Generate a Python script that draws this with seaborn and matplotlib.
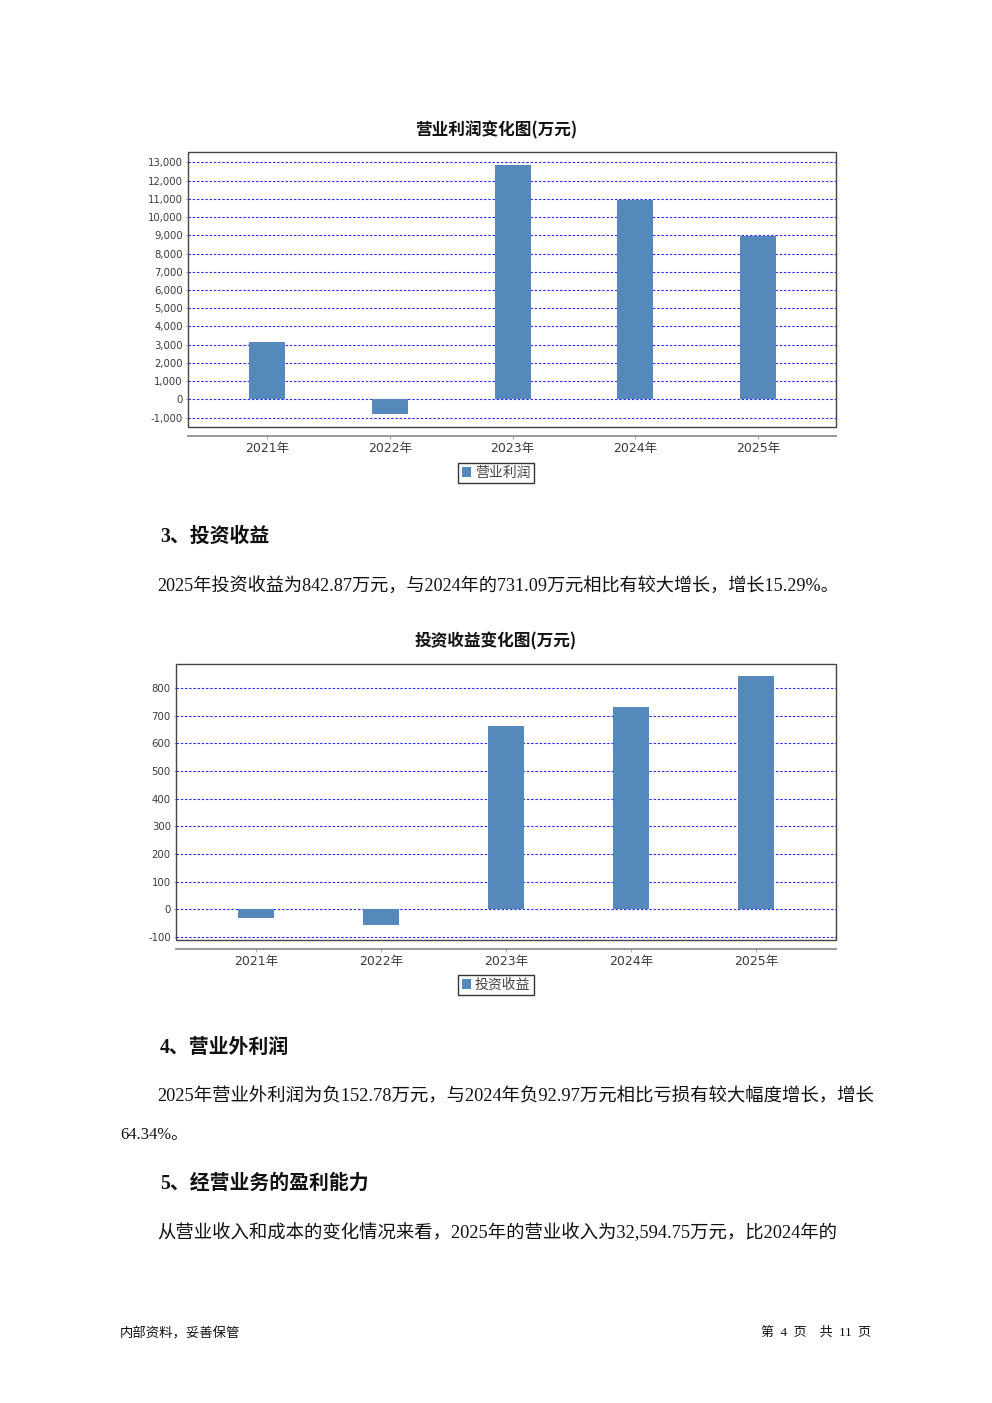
import matplotlib
matplotlib.use("Agg")
import matplotlib.pyplot as plt
import seaborn as sns
import pandas as pd
from matplotlib.patches import Rectangle

# ---------------- data ----------------
years = ["2021年", "2022年", "2023年", "2024年", "2025年"]
op_profit = [3140, -800, 12850, 10930, 8950]          # 营业利润 (万元)
invest_income = [-31, -57, 661, 731.09, 842.87]        # 投资收益 (万元)
op_ticks = list(range(-1000, 13001, 1000))
inv_ticks = list(range(-100, 801, 100))

title1 = "营业利润变化图(万元)"
title2 = "投资收益变化图(万元)"
series1 = "营业利润"
series2 = "投资收益"

heading3 = "3、投资收益"
para3 = "2025年投资收益为842.87万元，与2024年的731.09万元相比有较大增长，增长15.29%。"
heading4 = "4、营业外利润"
para4a = "2025年营业外利润为负152.78万元，与2024年负92.97万元相比亏损有较大幅度增长，增长"
para4b = "64.34%。"
heading5 = "5、经营业务的盈利能力"
para5 = "从营业收入和成本的变化情况来看，2025年的营业收入为32,594.75万元，比2024年的"
footer_left = "内部资料，妥善保管"
footer_right = "第  4  页    共  11  页"

# ---------------- style ----------------
sns.set_theme(style="white")
plt.rcParams["font.family"] = ["DejaVu Sans", "Noto Sans CJK SC"]
plt.rcParams["axes.unicode_minus"] = False

W, H = 992, 1403
fig = plt.figure(figsize=(W / 100, H / 100), dpi=100)
fig.patch.set_facecolor("white")

BAR = "#5588bb"
GRID = "#2a2aff"
CJK = ["Noto Sans CJK SC"]
SERIF = ["Liberation Serif", "Noto Sans CJK SC"]
TICKF = ["DejaVu Sans", "Noto Sans CJK SC"]


def fx(px):
    return px / W


def fy(py):
    return 1 - py / H


def make_chart(box, values, ticks, ylim, xlim, barw, title, title_y, legend_y, label):
    l, t, r, b = box
    ax = fig.add_axes([fx(l), fy(b), (r - l) / W, (b - t) / H])
    df = pd.DataFrame({"year": years, "value": values})
    sns.barplot(data=df, x="year", y="value", color=BAR, saturation=1,
                width=barw, ax=ax, errorbar=None)
    for p in ax.patches:
        p.set_edgecolor("none")
    # spines first (set_position resets ticks)
    for s in ["top", "right", "left"]:
        ax.spines[s].set_visible(False)
    ax.spines["bottom"].set_position(("outward", 8.5 * 0.72))
    ax.spines["bottom"].set_color("#999999")
    ax.spines["bottom"].set_linewidth(1.4)

    ax.set_xlim(*xlim)
    ax.set_ylim(*ylim)
    ax.set_yticks(ticks)
    ax.set_yticklabels([f"{v:,}" for v in ticks])
    ax.set_xticks(range(len(years)))
    ax.set_xticklabels(years)
    ax.set_xlabel("")
    ax.set_ylabel("")
    ax.tick_params(axis="y", which="both", left=True, length=1.5, width=0.8,
                   color="#aaaaaa", pad=2.2, labelsize=7.3, labelcolor="#3a3a3a")
    ax.tick_params(axis="x", which="both", bottom=True, length=2, width=0.8,
                   color="#aaaaaa", pad=2.5, labelsize=9, labelcolor="#3a3a3a")
    for tl in ax.get_xticklabels() + ax.get_yticklabels():
        tl.set_family(TICKF)
    ax.set_axisbelow(True)
    ax.yaxis.grid(True, color=GRID, linestyle=(0, (2.2, 1.6)), linewidth=0.8)
    ax.xaxis.grid(False)
    ax.add_patch(Rectangle((0, 0), 1, 1, transform=ax.transAxes, fill=False,
                           edgecolor="#444444", linewidth=1.0, clip_on=False, zorder=5))
    fig.text(fx(496), fy(title_y), title, ha="center", va="center",
             fontsize=12, fontweight="bold", family=CJK, color="#111111")
    leg = ax.legend(handles=[ax.patches[0]], labels=[label], loc="center",
                    bbox_to_anchor=(fx(496), fy(legend_y)), bbox_transform=fig.transFigure,
                    frameon=True, fancybox=False, edgecolor="#333333", framealpha=1,
                    handlelength=0.65, handleheight=0.65, handletextpad=0.3,
                    borderpad=0.25, borderaxespad=0,
                    prop={"family": CJK, "size": 10})
    leg.get_frame().set_linewidth(1.0)
    for txt in leg.get_texts():
        txt.set_color("#444444")
    return ax


# chart 1: 营业利润
make_chart(box=(188, 152, 836, 427), values=op_profit, ticks=op_ticks,
           ylim=(-1510, 13565), xlim=(-0.644, 4.635), barw=0.293,
           title=title1, title_y=130, legend_y=473, label=series1)

# chart 2: 投资收益
make_chart(box=(176, 664, 836, 940), values=invest_income, ticks=inv_ticks,
           ylim=(-110.8, 886.7), xlim=(-0.64, 4.64), barw=0.288,
           title=title2, title_y=641, legend_y=985, label=series2)

# ---------------- page text ----------------
renderer = fig.canvas.get_renderer()


def put(x, y, s, size, width=None, weight="normal", family=SERIF, ha="left"):
    t = fig.text(fx(x), fy(y), s, fontsize=size, fontweight=weight, family=family,
                 ha=ha, va="center", color="#111111")
    if width:
        bb = t.get_window_extent(renderer)
        t.set_fontsize(size * width / bb.width)
    return t


put(160, 537, heading3, 14, width=110, weight="bold")
put(157, 586, para3, 13, width=681)
put(160, 1048, heading4, 14, width=130, weight="bold")
put(157, 1097, para4a, 13, width=714)
put(120, 1135, para4b, 13, width=67)
put(160, 1184, heading5, 14, width=209, weight="bold")
put(157, 1233, para5, 13, width=677)
put(120, 1333, footer_left, 9, width=120, family=CJK)
put(871, 1333, footer_right, 9, width=110, family=SERIF, ha="right")

fig.savefig("out.png", dpi=100, facecolor="white")
